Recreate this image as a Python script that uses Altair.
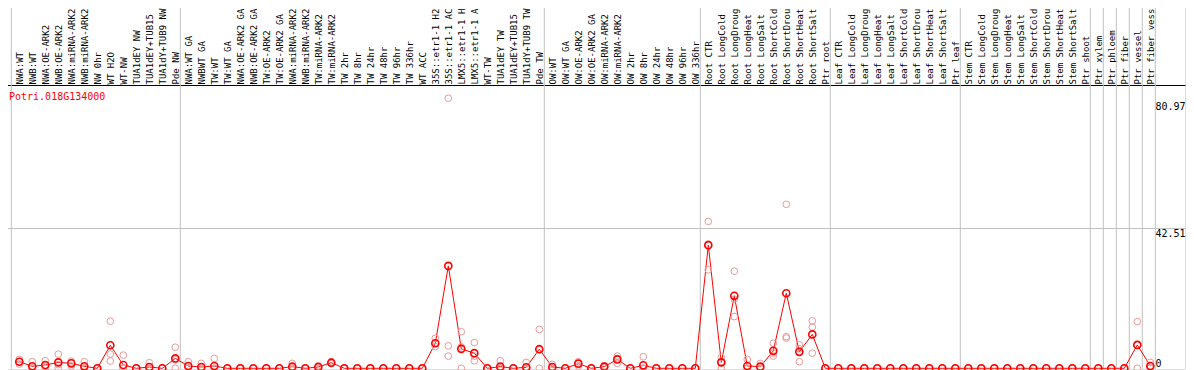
import json
import altair as alt
import pandas as pd

labels = [
    "NWA:WT", "NWB:WT", "NWA:OE-ARK2", "NWB:OE-ARK2", "NWA:miRNA-ARK2", "NWB:miRNA-ARK2",
    "NW 0hr", "WT H2O", "WT-NW", "TUA1dEY NW", "TUA1dEY+TUB15", "TUA1dY+TUB9 NW", "Pde NW",
    "NWA:WT GA", "NWBWT GA", "TW:WT", "TW:WT GA", "NWA:OE-ARK2 GA", "NWB:OE-ARK2 GA",
    "TW:OE-ARK2", "TW:OE-ARK2 GA", "NWA:miRNA-ARK2", "NWB:miRNA-ARK2", "TW:miRNA-ARK2",
    "TW:miRNA-ARK2", "TW 2hr", "TW 8hr", "TW 24hr", "TW 48hr", "TW 96hr", "TW 336hr",
    "WT ACC", "35S::etr1-1 H2", "35S::etr1-1 AC", "LMX5::etr1-1 H", "LMX5::etr1-1 A",
    "WT-TW", "TUA1dEY TW", "TUA1dEY+TUB15", "TUA1dY+TUB9 TW", "Pde TW",
    "OW:WT", "OW:WT GA", "OW:OE-ARK2", "OW:OE-ARK2 GA", "OW:miRNA-ARK2", "OW:miRNA-ARK2",
    "OW 2hr", "OW 8hr", "OW 24hr", "OW 48hr", "OW 96hr", "OW 336hr",
    "Root CTR", "Root LongCold", "Root LongDroug", "Root LongHeat", "Root LongSalt",
    "Root ShortCold", "Root ShortDrou", "Root ShortHeat", "Root ShortSalt", "Ptr root",
    "Leaf CTR", "Leaf LongCold", "Leaf LongDroug", "Leaf LongHeat", "Leaf LongSalt",
    "Leaf ShortCold", "Leaf ShortDrou", "Leaf ShortHeat", "Leaf ShortSalt", "Ptr leaf",
    "Stem CTR", "Stem LongCold", "Stem LongDroug", "Stem LongHeat", "Stem LongSalt",
    "Stem ShortCold", "Stem ShortDrou", "Stem ShortHeat", "Stem ShortSalt", "Ptr shoot",
    "Ptr xylem", "Ptr phloem", "Ptr fiber", "Ptr vessel", "Ptr fiber vess",
]

means = [
    2.0, 0.6, 1.0, 1.8, 1.5, 0.6, 0, 7.0, 1.0, 0, 0.4, 0, 3.0,
    0.7, 0.4, 0.7, 0, 0, 0, 0, 0, 0.5, 0, 0.4, 1.7, 0, 0, 0, 0, 0, 0,
    0, 7.6, 31.1, 5.9, 4.6, 0, 0.5, 0, 0.3, 5.8,
    0.4, 0, 1.4, 0, 0.5, 2.7, 0, 0.9, 0, 0, 0, 0,
    37.4, 1.8, 22.0, 0.7, 0.5, 5.3, 22.8, 5.0, 10.3, 0,
    0, 0, 0, 0, 0, 0, 0, 0, 0, 0,
    0, 0, 0, 0, 0, 0, 0, 0, 0, 0,
    0, 0, 0, 7.1, 0.7,
]

rep1 = [
    2.7, 2.0, 2.3, 4.3, 2.2, 2.0, 0, 14.3, 4.0, 0, 1.7, 0, 6.4,
    2.0, 1.5, 3.0, 0, 0, 0, 0, 0, 1.5, 0, 0.8, 2.0, 0, 0, 0, 0, 0, 0,
    0, 9.1, 82.0, 11.1, 7.8, 0, 2.3, 0, 1.8, 11.8,
    1.2, 0, 2.0, 0, 0.8, 3.7, 0, 3.5, 0, 0, 0, 0,
    44.6, 3.3, 29.5, 2.7, 1.5, 7.6, 49.8, 7.1, 14.4, 0,
    0, 0, 0, 0, 0, 0, 0, 0, 0, 0,
    0, 0, 0, 0, 0, 0, 0, 0, 0, 0,
    0, 0, 0, 14.2, 1.8,
]
rep2 = [
    2.0, 0, 0.7, 1.1, 1.6, 0, 0, 4.3, 0, 0, 0, 0, 2.6,
    0, 0, 0, 0, 0, 0, 0, 0, 0, 0, 0.4, 1.7, 0, 0, 0, 0, 0, 0,
    0, 7.6, 6.8, 6.5, 3.7, 0, 0, 0, 0, 5.6,
    0, 0, 1.5, 0, 0.5, 2.9, 0, 0, 0, 0, 0, 0,
    37.7, 2.0, 21.0, 0, 0, 4.6, 9.6, 5.9, 12.5, 0,
    0, 0, 0, 0, 0, 0, 0, 0, 0, 0,
    0, 0, 0, 0, 0, 0, 0, 0, 0, 0,
    0, 0, 0, 7.1, 0.3,
]
rep3 = [
    1.3, 0, 0, 0, 0.7, 0, 0, 2.2, 0, 0, 0, 0, 0,
    0, 0, 0, 0, 0, 0, 0, 0, 0, 0, 0, 1.4, 0, 0, 0, 0, 0, 0,
    0, 6.6, 3.7, 0, 2.3, 0, 0, 0, 0, 0,
    0, 0, 0.7, 0, 0.2, 1.5, 0, 0, 0, 0, 0, 0,
    29.9, 0, 15.7, 0, 0, 3.7, 9.2, 2.0, 4.6, 0,
    0, 0, 0, 0, 0, 0, 0, 0, 0, 0,
    0, 0, 0, 0, 0, 0, 0, 0, 0, 0,
    0, 0, 0, 0, 0,
]

# last sample index of each group (separators drawn after them)
group_ends = [-1, 12, 40, 52, 62, 72, 82, 83, 84, 85, 86, 87]
y_ticks = [0, 42.51, 80.97]
gene = "Potri.018G134000"

FONT = "DejaVu Sans Mono"
RED = "#ff0000"
PINK = "#e89a9a"
GRID = "#c0c0c0"

n = len(labels)
mean_df = pd.DataFrame({"idx": list(range(n)), "value": means, "label": labels})
rep_df = pd.DataFrame({
    "idx": list(range(n)) * 3,
    "value": rep1 + rep2 + rep3,
})
sep_df = pd.DataFrame({"end": group_ends})

W, H = 1185, 369
step = 13.0
x0 = -19.3 / step
x_scale = alt.Scale(domain=[x0, x0 + W / step], nice=False, zero=False)
px_per_unit = 140.0 / 42.51
y_lo = -0.7 / px_per_unit
y_scale = alt.Scale(domain=[y_lo, y_lo + H / px_per_unit], nice=False, zero=False)

label_expr = json.dumps(labels) + "[datum.value]"

x_axis = alt.Axis(
    orient="top", offset=-85, values=list(range(n)), tickCount=200, labelExpr=label_expr,
    labelAngle=270, labelAlign="left", labelBaseline="middle", labelPadding=1,
    labelFont=FONT, labelFontSize=9, labelColor="black", labelOverlap=False,
    labelBound=False, ticks=False, domain=True, domainColor="black", domainWidth=1,
    grid=False, title=None,
)
y_axis = alt.Axis(
    orient="right", offset=-31, values=y_ticks, tickCount=10,
    labelExpr="datum.value === 0 ? '0' : format(datum.value, '.2f')",
    labelFont=FONT, labelFontSize=10,
    labelColor="black", labelAlign="left", labelPadding=1,
    labelBaseline={"condition": {"test": "datum.value === 0", "value": "bottom"}, "value": "top"},
    ticks=False, domain=False, grid=True, gridColor=GRID, gridWidth=1,
    gridOpacity={"condition": {"test": "datum.value === 42.51", "value": 1}, "value": 0},
    title=None, labelOverlap=False, labelBound=False,
)

seps = alt.Chart(sep_df).transform_calculate(xs="datum.end + 5/13").mark_rule(
    color=GRID, strokeWidth=1
).encode(x=alt.X("xs:Q", scale=x_scale, axis=x_axis))

line = alt.Chart(mean_df).mark_line(color=RED, strokeWidth=1).encode(
    x=alt.X("idx:Q", scale=x_scale, axis=x_axis),
    y=alt.Y("value:Q", scale=y_scale, axis=y_axis),
)
reps = alt.Chart(rep_df).mark_point(
    shape="circle", filled=False, color=PINK, size=45, strokeWidth=1, opacity=1
).encode(
    x=alt.X("idx:Q", scale=x_scale),
    y=alt.Y("value:Q", scale=y_scale),
)
pts = alt.Chart(mean_df).mark_point(
    shape="circle", filled=False, color=RED, size=50, strokeWidth=1.6, opacity=1
).encode(
    x=alt.X("idx:Q", scale=x_scale),
    y=alt.Y("value:Q", scale=y_scale),
)
title = alt.Chart(pd.DataFrame({"t": [gene]})).mark_text(
    align="left", baseline="middle", font=FONT, fontSize=10, color=RED
).encode(x=alt.value(9), y=alt.value(97), text="t:N")

chart = alt.layer(seps, line, reps, pts, title).properties(
    width=W, height=H,
    padding={"left": -8, "top": -8, "right": 1, "bottom": 1},
    autosize=alt.AutoSizeParams(type="none"),
).configure_view(stroke="black", strokeWidth=1).configure(background="white")

chart.save("out.html", embed_options={"renderer": "svg", "actions": False})
